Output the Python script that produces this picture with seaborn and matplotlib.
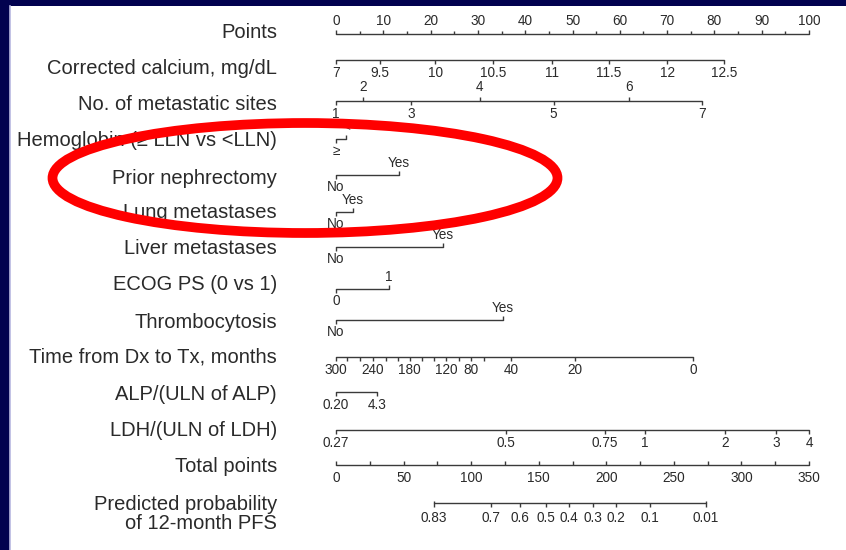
import numpy as np
import pandas as pd
import matplotlib
matplotlib.use("Agg")
import matplotlib.pyplot as plt
from matplotlib.patches import Ellipse
import seaborn as sns

# ---------------- data ----------------
points_ticks = list(range(0, 101, 10))
points_minor = list(range(5, 100, 10))

calcium_labels = ["7", "9.5", "10", "10.5", "11", "11.5", "12", "12.5"]
calcium_points = [0, 9.3, 21.0, 33.2, 45.7, 57.7, 70.0, 82.0]

sites_labels = ["1", "2", "3", "4", "5", "6", "7"]
sites_points = [0, 5.7, 15.9, 30.4, 46.0, 62.0, 77.4]

hemo_labels = ["≥", "<"]
hemo_points = [0, 2.1]
nephrectomy_labels = ["No", "Yes"]
nephrectomy_points = [0, 13.3]
lung_labels = ["No", "Yes"]
lung_points = [0, 3.6]
liver_labels = ["No", "Yes"]
liver_points = [0, 22.6]
ecog_labels = ["0", "1"]
ecog_points = [0, 11.2]
thrombo_labels = ["No", "Yes"]
thrombo_points = [0, 35.3]

time_values = [300, 280, 260, 240, 220, 200, 180, 160, 140, 120, 100, 80, 60, 40, 20, 0]
time_points = [0, 2.3, 5.1, 7.8, 10.6, 13.1, 15.6, 18.2, 20.7, 23.3, 26.0, 28.5, 31.3, 37.0, 50.5, 75.5]
time_shown = [300, 240, 180, 120, 80, 40, 20, 0]

alp_labels = ["0.20", "4.3"]
alp_points = [0, 8.7]

ldh_labels = ["0.27", "0.5", "0.75", "1", "2", "3", "4"]
ldh_points = [0, 35.9, 56.9, 65.3, 82.2, 93.0, 100]

total_ticks = list(range(0, 351, 25))
total_labels = list(range(0, 351, 50))

prob_labels = ["0.83", "0.7", "0.6", "0.5", "0.4", "0.3", "0.2", "0.1", "0.01"]
prob_total = [72.5, 114.7, 136.2, 155.4, 172.4, 190.2, 207.2, 232.3, 273.8]

row_names = ["Points", "Corrected calcium, mg/dL", "No. of metastatic sites",
             "Hemoglobin (≥ LLN vs <LLN)", "Prior nephrectomy", "Lung metastases",
             "Liver metastases", "ECOG PS (0 vs 1)", "Thrombocytosis",
             "Time from Dx to Tx, months", "ALP/(ULN of ALP)", "LDH/(ULN of LDH)",
             "Total points", "Predicted probability\nof 12-month PFS"]

# ---------------- style ----------------
sns.set_theme(style="white")
plt.rcParams['font.family'] = ['Liberation Sans', 'DejaVu Sans']

LINE = "#3a3a3a"
TXT = "#2a2a2a"
NAVY = "#02024f"
W, H = 846, 550
PX = 4.73          # pixels per point
X0 = 336           # pixel of 0 points

fig = plt.figure(figsize=(W / 100, H / 100), dpi=100, facecolor=NAVY)
left_px, top_px = 10, 6
ax = fig.add_axes([left_px / W, 0, (W - left_px) / W, (H - top_px) / H])
ax.set_facecolor("white")
ax.set_xlim((left_px - X0) / PX, (W - X0) / PX)
ax.set_ylim(H, top_px)
ax.set_xticks([]); ax.set_yticks([])
for s in ["top", "right", "bottom"]:
    ax.spines[s].set_visible(False)
ax.spines["left"].set_color("#b8b8e0")
ax.spines["left"].set_linewidth(1.2)

TICK_FS = 9.8
LW = 1.0


def hline(x0, x1, y):
    df = pd.DataFrame({"x": [x0, x1], "y": [y, y]})
    sns.lineplot(data=df, x="x", y="y", ax=ax, color=LINE, lw=LW,
                 estimator=None, sort=False, legend=False)


def ticks(xs, y, length):
    ax.vlines(xs, y, y + length, color=LINE, lw=LW)


# row label positions (pixel y)
label_y = [32, 68, 104, 140, 178, 212, 248, 285, 322, 357, 394, 430, 467, 514]
label_x = (277 - X0) / PX
for name, yy in zip(row_names, label_y):
    ax.text(label_x, yy, name, ha="right", va="center", fontsize=14.5,
            color=TXT, linespacing=1.05)

# Points
y = 34
hline(0, 100, y)
ticks(points_ticks, y, -4)
ticks(points_minor, y, -3)
for p in points_ticks:
    ax.text(p, y - 13, str(p), ha="center", va="center", fontsize=TICK_FS, color=TXT)

# Calcium
y = 60
hline(calcium_points[0], calcium_points[-1], y)
ticks(calcium_points, y, 4)
for lab, p in zip(calcium_labels, calcium_points):
    ax.text(p, y + 13, lab, ha="center", va="center", fontsize=TICK_FS, color=TXT)

# Metastatic sites
y = 101
hline(sites_points[0], sites_points[-1], y)
for i, (lab, p) in enumerate(zip(sites_labels, sites_points)):
    if i % 2 == 0:
        ticks([p], y, 4)
        ax.text(p, y + 13, lab, ha="center", va="center", fontsize=TICK_FS, color=TXT)
    else:
        ticks([p], y, -4)
        ax.text(p, y - 14, lab, ha="center", va="center", fontsize=TICK_FS, color=TXT)


def binary(labels, pts, y):
    hline(pts[0], pts[1], y)
    ticks([pts[0]], y, 4)
    ticks([pts[1]], y, -4)
    ax.text(pts[0], y + 12, labels[0], ha="center", va="center",
            fontsize=TICK_FS, color=TXT)
    ax.text(pts[1], y - 12, labels[1], ha="center", va="center",
            fontsize=TICK_FS, color=TXT)


binary(hemo_labels, hemo_points, 139)
binary(nephrectomy_labels, nephrectomy_points, 175)
binary(lung_labels, lung_points, 212)
binary(liver_labels, liver_points, 247)
binary(ecog_labels, ecog_points, 289)
binary(thrombo_labels, thrombo_points, 320)

# Time from Dx to Tx
y = 357
hline(time_points[0], time_points[-1], y)
ticks(time_points, y, 4)
for v, p in zip(time_values, time_points):
    if v in time_shown:
        ax.text(p, y + 13, str(v), ha="center", va="center", fontsize=TICK_FS, color=TXT)

# ALP
y = 392
hline(alp_points[0], alp_points[1], y)
ticks(alp_points, y, 4)
for lab, p in zip(alp_labels, alp_points):
    ax.text(p, y + 13, lab, ha="center", va="center", fontsize=TICK_FS, color=TXT)

# LDH
y = 430
hline(ldh_points[0], ldh_points[-1], y)
ticks(ldh_points, y, 4)
for lab, p in zip(ldh_labels, ldh_points):
    ax.text(p, y + 13, lab, ha="center", va="center", fontsize=TICK_FS, color=TXT)

# Total points
scale = 100 / 350
y = 465
hline(0, 350 * scale, y)
ticks([t * scale for t in total_ticks], y, -4)
for t in total_labels:
    ax.text(t * scale, y + 13, str(t), ha="center", va="center", fontsize=TICK_FS, color=TXT)

# Predicted probability
y = 503
ppos = [t * scale for t in prob_total]
hline(ppos[0], ppos[-1], y)
ticks(ppos, y, 4)
ticks([ppos[0], ppos[-1]], y, -2)
for lab, p in zip(prob_labels, ppos):
    ax.text(p, y + 15, lab, ha="center", va="center", fontsize=TICK_FS, color=TXT)

# red highlight ellipse
ell = Ellipse(((305 - X0) / PX, 178), width=505 / PX, height=110,
              fill=False, edgecolor="#ff0000", lw=7, zorder=10)
ax.add_patch(ell)

fig.savefig("out.png", dpi=100, facecolor=NAVY)
